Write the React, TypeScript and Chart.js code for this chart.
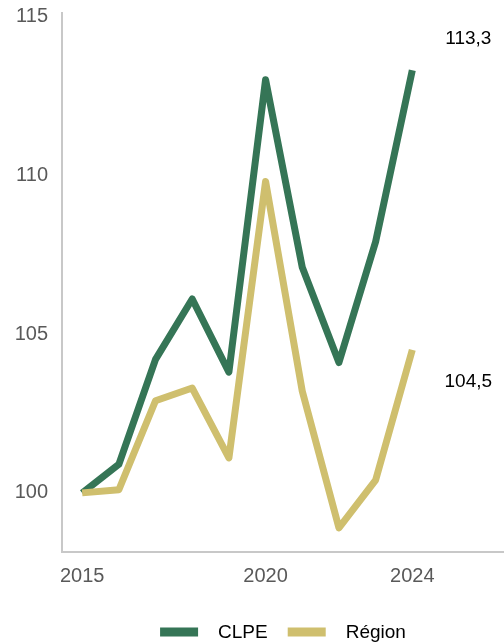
import React, { useEffect, useRef } from "react";
import { Chart, registerables } from "chart.js";

Chart.register(...registerables);

const years = [2015, 2016, 2017, 2018, 2019, 2020, 2021, 2022, 2023, 2024];
const clpe = [100, 100.9, 104.2, 106.1, 103.8, 113.0, 107.1, 104.1, 107.9, 113.3];
const region = [100, 100.1, 102.9, 103.3, 101.1, 109.8, 103.2, 98.9, 100.4, 104.5];
const xTickValues = [2015, 2020, 2024];
const yTickValues = [100, 105, 110, 115];
const seriesNames = ["CLPE", "Région"];
const colors = ["#357556", "#cfbf6e"];
const FONT = "'Liberation Sans', Arial, sans-serif";

const endLabels = {
  id: "endLabels",
  afterDatasetsDraw(chart: any) {
    const ctx = chart.ctx;
    const xs = chart.scales.x;
    const ys = chart.scales.y;
    ctx.save();
    ctx.font = `19px ${FONT}`;
    ctx.fillStyle = "#000";
    ctx.textAlign = "center";
    ctx.textBaseline = "middle";
    chart.data.datasets.forEach((ds: any) => {
      const last = ds.data[ds.data.length - 1];
      const up = ds.label === seriesNames[0];
      const px = xs.getPixelForValue(last.x) + 56;
      const py = ys.getPixelForValue(last.y) + (up ? -31 : 32);
      ctx.fillText(last.y.toFixed(1).replace(".", ","), px, py);
    });
    ctx.restore();
  },
};

const customLegend = {
  id: "customLegend",
  afterDraw(chart: any) {
    const ctx = chart.ctx;
    const area = chart.chartArea;
    ctx.save();
    ctx.font = `19px ${FONT}`;
    ctx.textBaseline = "middle";
    ctx.textAlign = "left";
    const boxW = 38, boxH = 9, gapText = 20, gapItem = 20;
    const widths = seriesNames.map((n) => boxW + gapText + ctx.measureText(n).width);
    const total = widths.reduce((a, b) => a + b, 0) + gapItem * (seriesNames.length - 1);
    let x = (area.left + area.right) / 2 - total / 2;
    const y = chart.height - 10;
    seriesNames.forEach((n, i) => {
      ctx.fillStyle = colors[i];
      ctx.fillRect(x, y - boxH / 2 - 1, boxW, boxH);
      ctx.fillStyle = "#000";
      ctx.fillText(n, x + boxW + gapText, y);
      x += widths[i] + gapItem;
    });
    ctx.restore();
  },
};

export default function App() {
  const ref = useRef<HTMLCanvasElement>(null);
  useEffect(() => {
    document.body.style.margin = "0";
    const c = new Chart(ref.current!, {
      type: "line",
      data: {
        datasets: [clpe, region]
          .map((arr, i) => ({
            label: seriesNames[i],
            data: arr.map((v, j) => ({ x: years[j], y: v })),
            borderColor: colors[i],
            backgroundColor: colors[i],
            borderWidth: 7,
            pointRadius: 0,
            borderJoinStyle: "round",
            borderCapStyle: "butt",
            tension: 0,
          }))
          .reverse() as any,
      },
      options: {
        animation: false,
        responsive: false,
        layout: { padding: { top: 13, right: 0, left: 0, bottom: 43 } },
        plugins: {
          legend: { display: false },
          tooltip: { enabled: false },
        },
        scales: {
          x: {
            type: "linear",
            min: 2014.45,
            max: 2026.5,
            grid: { display: false, drawTicks: false },
            border: { display: true, color: "#c8c8c8", width: 2 },
            afterBuildTicks: (s: any) => {
              s.ticks = xTickValues.map((v) => ({ value: v }));
            },
            afterFit: (s: any) => {
              s.height = 48;
              s.paddingLeft = 0;
              s.paddingRight = 0;
            },
            ticks: {
              color: "#595959",
              padding: 12,
              font: { size: 20, family: FONT },
              callback: (v: any) => String(v),
            },
          },
          y: {
            min: 98.14,
            max: 115.1,
            grid: { display: false, drawTicks: false },
            border: { display: true, color: "#c8c8c8", width: 2 },
            afterBuildTicks: (s: any) => {
              s.ticks = yTickValues.map((v) => ({ value: v }));
            },
            afterFit: (s: any) => {
              s.width = 62;
              s.paddingTop = 0;
              s.paddingBottom = 0;
            },
            ticks: {
              color: "#595959",
              padding: 14,
              font: { size: 20, family: FONT },
            },
          },
        },
      } as any,
      plugins: [endLabels, customLegend],
    });
    return () => c.destroy();
  }, []);
  return (
    <div style={{ position: "absolute", left: 0, top: 0, width: 504, height: 643 }}>
      <canvas ref={ref} width={504} height={643} style={{ width: 504, height: 643 }} />
    </div>
  );
}
